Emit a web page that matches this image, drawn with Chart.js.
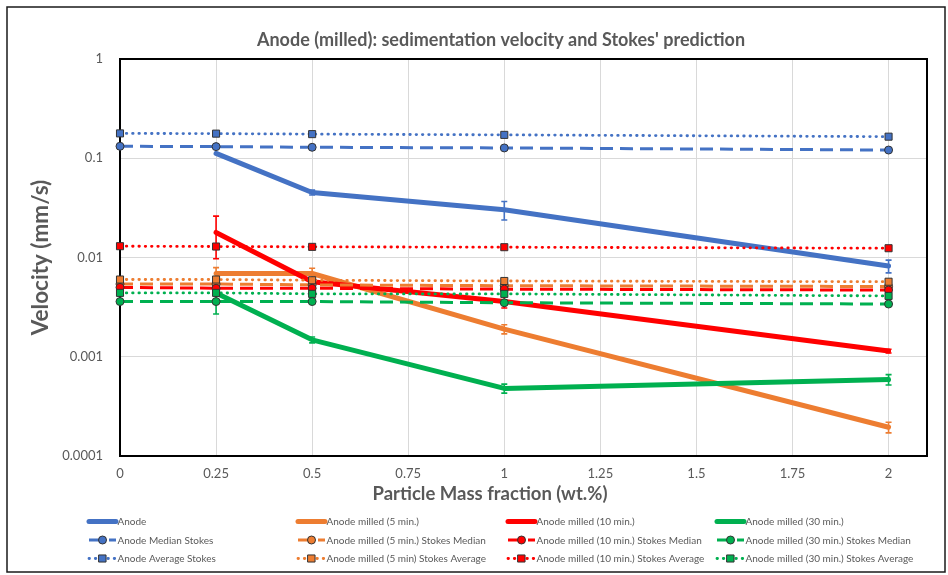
<!DOCTYPE html>
<html>
<head>
<meta charset="utf-8">
<script src="https://cdn.jsdelivr.net/npm/chart.js@4.4.1/dist/chart.umd.min.js"></script>
<style>
  body { margin: 0; background: #fff; }
  #wrap { width: 948px; height: 575px; }
</style>
</head>
<body>
<div id="wrap"><canvas id="grafico" width="948" height="575"></canvas></div>
<script>
// particle mass fraction (wt.%)
var fracciones = [0, 0.25, 0.5, 1, 2];
var ticksX = [0, 0.25, 0.5, 0.75, 1, 1.25, 1.5, 1.75, 2];
var ticksY = [0.0001, 0.001, 0.01, 0.1, 1];

// measured velocities (mm/s), no value at 0 wt.%
var anodo = [null, 0.112, 0.0452, 0.0303, 0.0082];
var anodoErr = [0, 0, 0.0025, 0.0064, 0.0012];
var molido5 = [null, 0.0069, 0.0069, 0.0019, 0.000195];
var molido5Err = [0, 0.001, 0.0009, 0.0002, 0.000024];
var molido10 = [null, 0.0179, 0.0057, 0.0036, 0.00114];
var molido10Err = [0, 0.0082, 0.0004, 0.0005, 0.00005];
var molido30 = [null, 0.0044, 0.00148, 0.00048, 0.00059];
var molido30Err = [0, 0.0017, 0.0001, 0.00005, 0.00007];

// Stokes predictions
var anodoMediana = [0.132, 0.131, 0.129, 0.127, 0.121];
var molido5Mediana = [0.0054, 0.0054, 0.0053, 0.0052, 0.0051];
var molido10Mediana = [0.0050, 0.0049, 0.0049, 0.0048, 0.0047];
var molido30Mediana = [0.0036, 0.0036, 0.0036, 0.0035, 0.0034];
var anodoMedia = [0.178, 0.177, 0.175, 0.172, 0.165];
var molido5Media = [0.0060, 0.0060, 0.0059, 0.0058, 0.0057];
var molido10Media = [0.0130, 0.0129, 0.0128, 0.0127, 0.0124];
var molido30Media = [0.0044, 0.0044, 0.0043, 0.0043, 0.0041];

var titulo = "Anode (milled): sedimentation velocity and Stokes' prediction";
var tituloX = 'Particle Mass fraction (wt.%)';
var tituloY = 'Velocity (mm/s)';

var azul = '#4472C4', naranja = '#ED7D31', rojo = '#FF0000', verde = '#00B050';
var gris = '#595959';

function puntos(valores) {
    var res = [];
    for (var i = 0; i < fracciones.length; i++) {
        if (valores[i] !== null) res.push({x: fracciones[i], y: valores[i]});
    }
    return res;
}

function serieSolida(nombre, valores, errores, color) {
    return {
        label: nombre, data: puntos(valores), errores: errores, tipo: 'solida',
        borderColor: color, backgroundColor: color, borderWidth: 5,
        borderJoinStyle: 'round', borderCapStyle: 'round',
        pointRadius: 0, tension: 0, clip: false
    };
}
function serieMediana(nombre, valores, color) {
    return {
        label: nombre, data: puntos(valores), tipo: 'mediana',
        borderColor: color, backgroundColor: color, borderWidth: 3,
        borderDash: [13, 7], pointStyle: 'circle', pointRadius: 4,
        pointBackgroundColor: color, pointBorderColor: '#333', pointBorderWidth: 1,
        tension: 0, clip: false
    };
}
function serieMedia(nombre, valores, color) {
    return {
        label: nombre, data: puntos(valores), tipo: 'media',
        borderColor: color, backgroundColor: color, borderWidth: 2.8,
        borderDash: [0.5, 5.8], borderCapStyle: 'round', pointStyle: 'rect', pointRadius: 5,
        pointBackgroundColor: color, pointBorderColor: '#333', pointBorderWidth: 1,
        tension: 0, clip: false
    };
}

var series = [
    serieSolida('Anode', anodo, anodoErr, azul),
    serieSolida('Anode milled (5 min.)', molido5, molido5Err, naranja),
    serieSolida('Anode milled (10 min.)', molido10, molido10Err, rojo),
    serieSolida('Anode milled (30 min.)', molido30, molido30Err, verde),
    serieMediana('Anode Median Stokes', anodoMediana, azul),
    serieMediana('Anode milled (5 min.) Stokes Median', molido5Mediana, naranja),
    serieMediana('Anode milled (10 min.) Stokes Median', molido10Mediana, rojo),
    serieMediana('Anode milled (30 min.) Stokes Median', molido30Mediana, verde),
    serieMedia('Anode Average Stokes', anodoMedia, azul),
    serieMedia('Anode milled (5 min) Stokes Average', molido5Media, naranja),
    serieMedia('Anode milled (10 min.) Stokes Average', molido10Media, rojo),
    serieMedia('Anode milled (30 min.) Stokes Average', molido30Media, verde)
];
// later series on top, as in the original
for (var i = 0; i < series.length; i++) series[i].order = series.length - i;

// outer frame, plot-area frame and the two horizontal titles
var marcos = {
    id: 'marcos',
    beforeDraw: function(chart) {
        var ctx = chart.ctx;
        ctx.save();
        ctx.fillStyle = '#fff';
        ctx.fillRect(0, 0, chart.width, chart.height);
        ctx.strokeStyle = '#1a1a1a';
        ctx.lineWidth = 1.5;
        ctx.strokeRect(7, 7, 938, 565);
        ctx.fillStyle = gris;
        ctx.textAlign = 'center';
        ctx.textBaseline = 'middle';
        ctx.font = 'bold 18px Lato';
        ctx.fillText(titulo, 501, 40);
        ctx.font = 'bold 18.5px Lato';
        ctx.fillText(tituloX, 490, 494);
        ctx.restore();
    },
    beforeDatasetsDraw: function(chart) {
        var a = chart.chartArea, ctx = chart.ctx;
        ctx.save();
        ctx.strokeStyle = '#000';
        ctx.lineWidth = 2;
        ctx.strokeRect(a.left, a.top, a.right - a.left, a.bottom - a.top);
        ctx.restore();
    }
};

// error bars for the measured series
var barrasError = {
    id: 'barrasError',
    afterDatasetDraw: function(chart, args) {
        var ds = chart.data.datasets[args.index];
        if (!ds.errores) return;
        var ctx = chart.ctx, xs = chart.scales.x, ys = chart.scales.y;
        ctx.save();
        ctx.strokeStyle = ds.borderColor;
        ctx.lineWidth = 1.6;
        ds.data.forEach(function(p) {
            var e = ds.errores[fracciones.indexOf(p.x)];
            if (!e) return;
            var px = xs.getPixelForValue(p.x);
            var y1 = ys.getPixelForValue(p.y + e);
            var y2 = ys.getPixelForValue(Math.max(p.y - e, 1e-6));
            ctx.beginPath();
            ctx.moveTo(px, y1); ctx.lineTo(px, y2);
            ctx.moveTo(px - 3, y1); ctx.lineTo(px + 3, y1);
            ctx.moveTo(px - 3, y2); ctx.lineTo(px + 3, y2);
            ctx.stroke();
        });
        ctx.restore();
    }
};

// legend in a 4 x 3 grid under the axis
var leyenda = {
    id: 'leyenda',
    afterDraw: function(chart) {
        var ctx = chart.ctx;
        var colX = [88, 297, 507, 716];
        var filaY = [521.5, 540, 558.5];
        ctx.save();
        chart.data.datasets.forEach(function(ds, i) {
            var x0 = colX[i % 4], y = filaY[Math.floor(i / 4)];
            ctx.strokeStyle = ds.borderColor;
            ctx.lineWidth = ds.borderWidth;
            ctx.lineCap = ds.tipo === 'mediana' ? 'butt' : 'round';
            ctx.setLineDash(ds.borderDash || []);
            ctx.beginPath();
            ctx.moveTo(x0 + 1, y); ctx.lineTo(x0 + 28, y);
            ctx.stroke();
            ctx.setLineDash([]);
            if (ds.tipo !== 'solida') {
                ctx.fillStyle = ds.pointBackgroundColor;
                ctx.strokeStyle = ds.pointBorderColor;
                ctx.lineWidth = 1;
                ctx.beginPath();
                if (ds.pointStyle === 'circle') {
                    ctx.arc(x0 + 14.5, y, ds.pointRadius, 0, Math.PI * 2);
                } else {
                    var s = ds.pointRadius * Math.SQRT1_2;
                    ctx.rect(x0 + 14.5 - s, y - s, 2 * s, 2 * s);
                }
                ctx.fill();
                ctx.stroke();
            }
            ctx.fillStyle = gris;
            ctx.font = '10px Lato';
            ctx.textBaseline = 'middle';
            ctx.textAlign = 'left';
            ctx.fillText(ds.label, x0 + 29.5, y + 0.5);
        });
        ctx.restore();
    }
};

var grafico = new Chart(document.getElementById('grafico'), {
    type: 'line',
    data: { datasets: series },
    plugins: [marcos, barrasError, leyenda],
    options: {
        responsive: false,
        animation: false,
        devicePixelRatio: 1,
        events: [],
        layout: { padding: { left: 8, right: 21, top: 59, bottom: 69 } },
        plugins: {
            legend: { display: false },
            tooltip: { enabled: false },
            title: { display: false }
        },
        scales: {
            x: {
                type: 'linear',
                min: 0,
                max: 2.1,
                afterBuildTicks: function(scale) {
                    scale.ticks = ticksX.map(function(v) { return {value: v}; });
                },
                afterFit: function(scale) { scale.height = 50; },
                ticks: {
                    color: gris,
                    font: { family: 'Lato', size: 13 },
                    padding: 10,
                    maxRotation: 0,
                    callback: function(v) { return String(v); }
                },
                grid: { color: '#d9d9d9', lineWidth: 1, drawTicks: false },
                border: { display: true, color: '#000', width: 2 }
            },
            y: {
                type: 'logarithmic',
                min: 0.0001,
                max: 1,
                afterBuildTicks: function(scale) {
                    scale.ticks = ticksY.map(function(v) { return {value: v}; });
                },
                afterFit: function(scale) { scale.width = 112; },
                ticks: {
                    color: gris,
                    font: { family: 'Lato', size: 13 },
                    padding: 17,
                    callback: function(v) { return String(v); }
                },
                grid: { color: '#d9d9d9', lineWidth: 1, drawTicks: false },
                border: { display: true, color: '#000', width: 2 },
                title: {
                    display: true,
                    text: tituloY,
                    color: gris,
                    font: { family: 'Lato', size: 22.5, weight: 'bold' },
                    padding: { top: 19, bottom: 0 }
                }
            }
        }
    }
});
</script>
</body>
</html>
